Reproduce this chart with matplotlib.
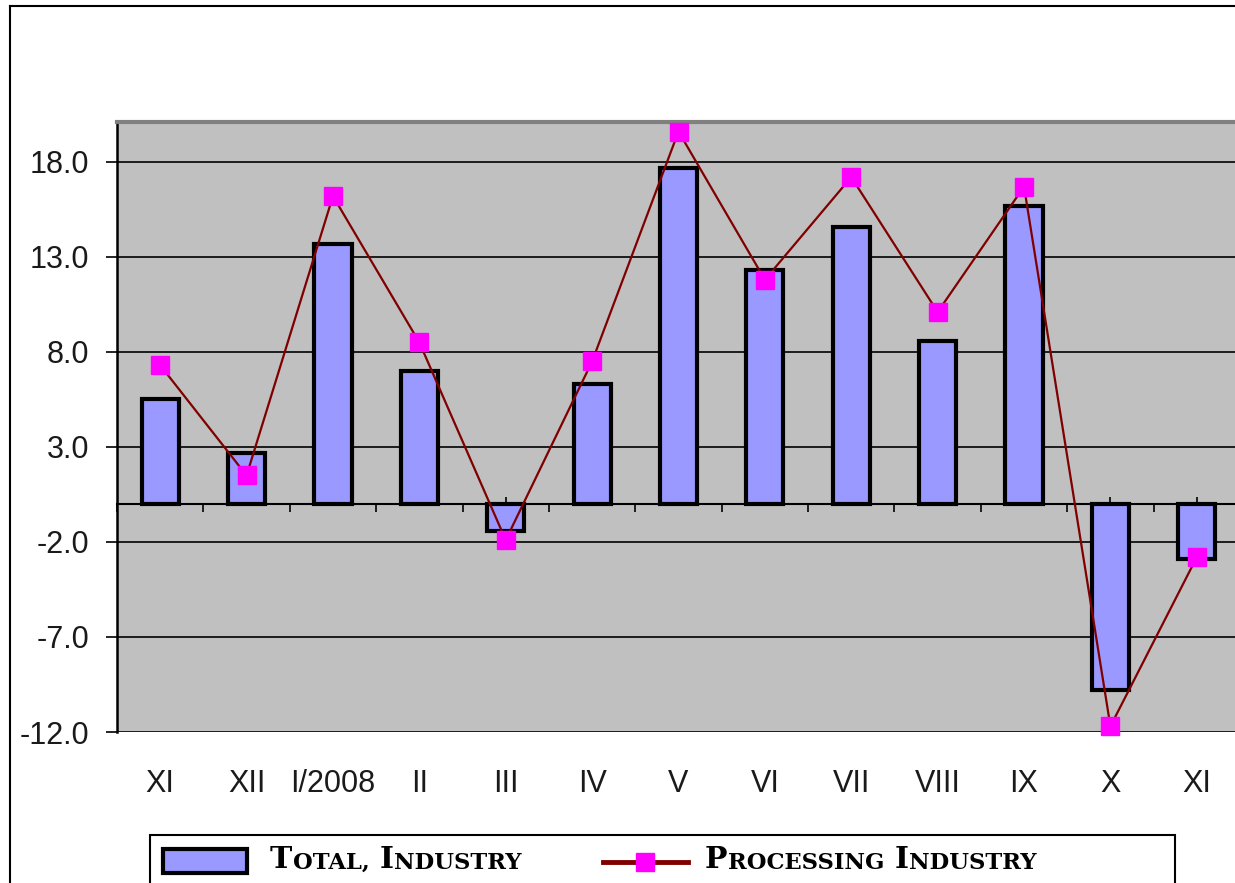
import matplotlib.pyplot as plt
import numpy as np
from matplotlib.lines import Line2D
from matplotlib.patches import Rectangle
from matplotlib.text import Annotation

months = ["XI", "XII", "I/2008", "II", "III", "IV", "V", "VI", "VII", "VIII", "IX", "X", "XI"]
total_industry = [5.5, 2.7, 13.7, 7.0, -1.4, 6.3, 17.7, 12.3, 14.6, 8.6, 15.7, -9.8, -2.9]
processing_industry = [7.3, 1.5, 16.2, 8.5, -1.9, 7.5, 19.6, 11.8, 17.2, 10.1, 16.7, -11.7, -2.8]
y_ticks = [-12.0, -7.0, -2.0, 3.0, 8.0, 13.0, 18.0]
y_min, y_max = -12.0, 20.1

W, H = 1235, 883


def fx(px):
    return px / W


def fy(py):
    return 1 - py / H


plt.rcParams["font.family"] = ["Liberation Sans", "DejaVu Sans"]
fig = plt.figure(figsize=(W / 100, H / 100), dpi=100)

ax = fig.add_axes([fx(117), fy(732), fx(1240) - fx(117), fy(122) - fy(732)])
ax.set_facecolor("#c0c0c0")
x = np.arange(len(months))

ax.bar(x, total_industry, width=0.43, color="#9999ff", edgecolor="black", linewidth=3, zorder=3)
ax.plot(x, processing_industry, color="#800000", lw=1.6, marker="s", ms=13,
        mfc="#ff00ff", mec="#ff00ff", zorder=4, clip_on=False)

ax.set_xlim(-0.5, len(months) - 0.5)
ax.set_ylim(y_min, y_max)
ax.set_yticks(y_ticks)
ax.set_yticklabels([f"{v:.1f}" for v in y_ticks])
ax.yaxis.grid(True, color="black", lw=1.2)
ax.set_axisbelow(True)
ax.tick_params(axis="y", direction="out", length=8, width=1.2, pad=12, labelsize=22, labelcolor="#1a1a1a")
ax.set_xticks(x)
ax.set_xticklabels(months)
ax.tick_params(axis="x", length=0, pad=27, labelsize=22, labelcolor="#1a1a1a")
for s in ["right", "bottom"]:
    ax.spines[s].set_visible(False)
ax.spines["top"].set_color("#808080")
ax.spines["top"].set_linewidth(3)
ax.spines["left"].set_linewidth(1.8)

# zero axis with ticks (centers up, boundaries down)
sec = ax.secondary_xaxis((0 - y_min) / (y_max - y_min))
sec.set_xticks(x)
sec.set_xticks(np.arange(-0.5, len(months), 1), minor=True)
sec.tick_params(which="major", direction="in", length=5, width=1.2, labelbottom=False)
sec.tick_params(which="minor", direction="out", length=6, width=1.2)
sec.spines["bottom"].set_linewidth(1.5)

# outer frame
fig.add_artist(Line2D([fx(10), fx(10)], [fy(6), 0], color="black", lw=1.5, transform=fig.transFigure))
fig.add_artist(Line2D([fx(10), 1], [fy(6), fy(6)], color="black", lw=1.5, transform=fig.transFigure))

# legend
fig.add_artist(Rectangle((fx(150), -0.05), fx(1175) - fx(150), fy(835) + 0.05, transform=fig.transFigure,
                         fc="white", ec="black", lw=1.5))
fig.add_artist(Rectangle((fx(163), fy(873)), fx(247) - fx(163), (873 - 849) / H, transform=fig.transFigure,
                         fc="#9999ff", ec="black", lw=3))
fig.add_artist(Line2D([fx(603), fx(688)], [fy(862), fy(862)], color="#800000", lw=3.5, transform=fig.transFigure))
fig.add_artist(Line2D([fx(645)], [fy(862)], marker="s", ms=13, color="#ff00ff", ls="none",
                      transform=fig.transFigure))


def small_caps(x0, y0, pieces):
    # first letter of each word larger, rest as small capitals
    big, small = 21.5, 16.3
    style = dict(family="DejaVu Serif", weight="bold", color="black")
    prev = fig.text(x0, y0, pieces[0], fontsize=big, va="baseline", zorder=5, **style)
    for i, txt in enumerate(pieces[1:], start=1):
        size = big if i % 2 == 0 else small
        gap = 7 if i % 2 == 0 else 0.5
        prev = Annotation(txt, xy=(1, 0), xycoords=prev, xytext=(gap, 0), textcoords="offset points",
                          fontsize=size, va="bottom", annotation_clip=False, zorder=5, **style)
        fig.add_artist(prev)


small_caps(fx(270), fy(868), ["T", "OTAL,", "I", "NDUSTRY"])
small_caps(fx(705), fy(868), ["P", "ROCESSING", "I", "NDUSTRY"])

fig.savefig("out.png", dpi=100)
